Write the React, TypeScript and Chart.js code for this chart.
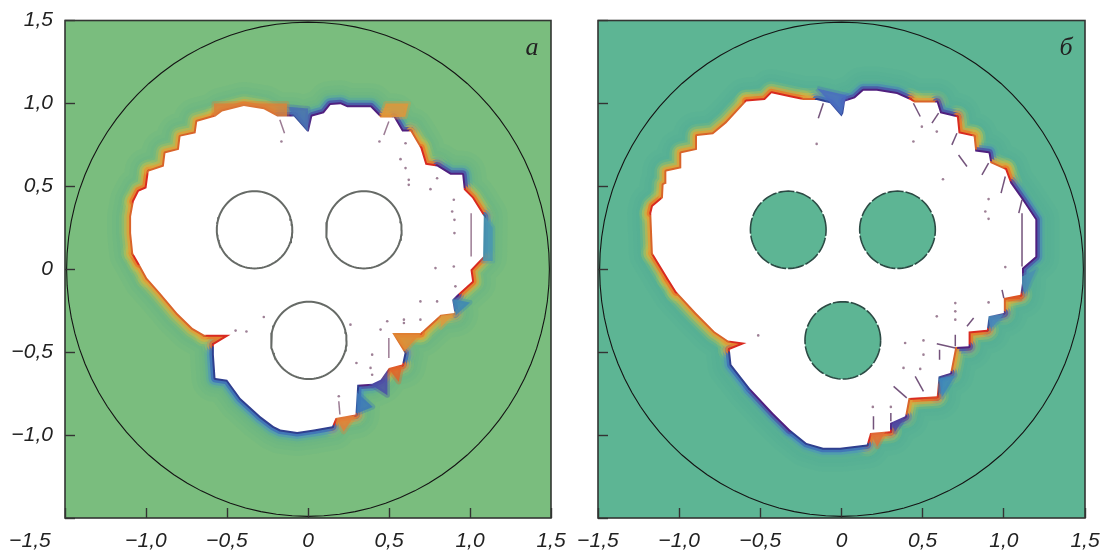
import React, { useEffect, useRef } from "react";
import { Chart, registerables } from "chart.js";

Chart.register(...registerables);

const axisValues = [-1.5, -1, -0.5, 0, 0.5, 1, 1.5];
const axisLabels = ["−1,5", "−1,0", "−0,5", "0", "0,5", "1,0", "1,5"];

const leftOutlineX = [
  -0.993, -1.044, -1.079, -1.092, -1.092, -1.075, -1.044, -0.997, -0.983, -0.89,
  -0.88, -0.797, -0.787, -0.694, -0.684, -0.571, -0.53, -0.396, -0.273, -0.19,
  -0.087, -0.005, 0.005, 0.026, 0.098, 0.139, 0.201, 0.242, 0.386, 0.448,
  0.53, 0.581, 0.633, 0.694, 0.725, 0.797, 0.879, 0.952, 0.962, 1.013,
  1.085, 1.081, 1.003, 1.013, 0.921, 0.89, 0.904, 0.818, 0.694, 0.52,
  0.596, 0.581, 0.499, 0.448, 0.396, 0.304, 0.293, 0.17, 0.149, 0.036,
  -0.067, -0.17, -0.211, -0.293, -0.417, -0.499, -0.571, -0.581, -0.581, -0.478,
  -0.64, -0.712, -0.807, -0.91,
];
const leftOutlineY = [
  -0.053, 0.037, 0.097, 0.218, 0.318, 0.409, 0.469, 0.489, 0.589, 0.62,
  0.7, 0.72, 0.8, 0.82, 0.89, 0.921, 0.951, 0.985, 0.965, 0.921,
  0.921, 0.83, 0.83, 0.921, 0.941, 0.991, 0.995, 0.977, 0.977, 0.915,
  0.915, 0.83, 0.83, 0.73, 0.63, 0.62, 0.57, 0.57, 0.479, 0.429,
  0.318, 0.077, -0.003, -0.073, -0.154, -0.184, -0.264, -0.274, -0.385, -0.385,
  -0.505, -0.575, -0.595, -0.666, -0.69, -0.696, -0.876, -0.897, -0.947, -0.967,
  -0.981, -0.967, -0.947, -0.887, -0.776, -0.666, -0.656, -0.515, -0.455, -0.395,
  -0.395, -0.354, -0.264, -0.144,
];
const leftOutlineTone = [
  "Y", "R", "Y", "Y", "Y", "R", "R", "R", "Y", "Y",
  "Y", "Y", "Y", "Y", "Y", "R", "R", "R", "R", "P",
  "B", "B", "P", "P", "P", "P", "P", "P", "P", "Y",
  "P", "P", "Y", "R", "R", "P", "P", "P", "R", "R",
  "B", "R", "R", "R", "P", "P", "Y", "Y", "R", "Y",
  "B", "R", "R", "P", "P", "B", "R", "R", "B", "B",
  "B", "B", "B", "B", "B", "B", "B", "B", "R", "R",
  "Y", "Y", "Y", "Y",
];

const rightOutlineX = [
  -1.069, -1.162, -1.172, -1.162, -1.1, -1.096, -1.075, -1.079, -0.987, -0.987,
  -0.89, -0.89, -0.791, -0.709, -0.586, -0.472, -0.431, -0.318, -0.236, -0.153,
  -0.071, 0, 0.011, 0.022, 0.083, 0.135, 0.217, 0.341, 0.423, 0.448,
  0.587, 0.608, 0.711, 0.721, 0.814, 0.824, 0.906, 0.917, 1.009, 1.04,
  1.112, 1.194, 1.194, 1.112, 1.112, 1.102, 1.0, 1.0, 0.906, 0.896,
  0.783, 0.783, 0.701, 0.67, 0.598, 0.587, 0.413, 0.392, 0.299, 0.299,
  0.176, 0.156, -0.009, -0.112, -0.215, -0.318, -0.421, -0.565, -0.678, -0.688,
  -0.585, -0.699, -0.781, -0.894, -1.017,
];
const rightOutlineY = [
  -0.053, 0.097, 0.338, 0.378, 0.429, 0.509, 0.519, 0.589, 0.609, 0.7,
  0.72, 0.804, 0.814, 0.881, 1.011, 1.021, 1.061, 1.037, 1.021, 1.021,
  1.001, 0.921, 0.941, 1.011, 1.031, 1.077, 1.077, 1.057, 1.021, 1.005,
  1.005, 0.941, 0.917, 0.82, 0.8, 0.71, 0.7, 0.64, 0.6, 0.519,
  0.419, 0.298, 0.077, 0.007, -0.083, -0.154, -0.174, -0.264, -0.284, -0.365,
  -0.375, -0.465, -0.469, -0.625, -0.646, -0.766, -0.776, -0.887, -0.927, -0.977,
  -0.987, -1.057, -1.077, -1.077, -1.047, -0.967, -0.867, -0.716, -0.575, -0.485,
  -0.445, -0.429, -0.375, -0.264, -0.134,
];
const rightOutlineTone = [
  "R", "Y", "R", "R", "Y", "Y", "Y", "Y", "Y", "Y",
  "Y", "Y", "Y", "Y", "R", "R", "R", "R", "Y", "B",
  "B", "B", "B", "P", "P", "P", "P", "P", "R", "Y",
  "P", "P", "R", "R", "Y", "P", "P", "Y", "R", "P",
  "P", "P", "P", "P", "P", "R", "Y", "P", "B", "R",
  "R", "P", "Y", "P", "B", "R", "Y", "P", "P", "R",
  "R", "B", "B", "B", "B", "P", "P", "B", "B", "R",
  "R", "Y", "Y", "Y", "R",
];

const leftHolesX = [-0.33, 0.345, 0.005];
const leftHolesY = [0.238, 0.238, -0.429];
const rightHolesX = [-0.328, 0.345, 0.008];
const rightHolesY = [0.238, 0.238, -0.429];
const holeRadius = 0.233;
const domainRadius = 1.49;

const leftSpecksX = [
  0.602, 0.571, 0.602, 0.622, 0.622, 0.756, 0.797, 0.9, 0.89, 0.904, 0.904, 0.787, 0.9, 0.441, -0.164,
  0.694, 0.797, 0.694, 0.592, 0.592, 0.489, 0.448, 0.396, 0.386, 0.396, 0.299, 0.262, 0.19, 0.91,
  -0.273, -0.447, -0.38,
];
const leftSpecksY = [
  0.76, 0.664, 0.61, 0.539, 0.509, 0.483, 0.549, 0.419, 0.348, 0.298, 0.218, 0.007, 0.017, 0.77, 0.77,
  -0.194, -0.194, -0.304, -0.304, -0.324, -0.314, -0.364, -0.515, -0.595, -0.636, -0.565, -0.334, -0.766, -0.103,
  -0.288, -0.37, -0.375,
];
const leftCracksX = [
  [1.007, 1.007], [0.499, 0.468], [-0.174, -0.145], [0.499, 0.499], [0.19, 0.197],
];
const leftCracksY = [
  [0.338, 0.077], [0.891, 0.81], [0.901, 0.82], [-0.415, -0.535], [-0.796, -0.876],
];

const rightSpecksX = [
  0.495, 0.587, 0.443, 0.625, 0.906, 0.886, 0.906, 1.009, -0.153,
  0.701, 0.701, 0.701, 0.587, 0.906, 0.392, 0.505, 0.505, 0.382, 0.485, 0.193, 0.304, -0.513,
];
const rightSpecksY = [
  0.86, 0.83, 0.77, 0.543, 0.423, 0.348, 0.304, 0.013, 0.756,
  -0.204, -0.254, -0.304, -0.284, -0.2, -0.445, -0.429, -0.515, -0.595, -0.601, -0.83, -0.83, -0.399,
];
const rightCracksX = [
  [0.443, 0.485], [0.598, 0.557], [0.711, 0.68], [0.721, 0.773], [0.906, 0.865], [1.009, 0.983], [1.112, 1.092],
  [1.112, 1.112], [-0.112, -0.143], [0.989, 1.0], [0.773, 0.814], [0.701, 0.701], [0.587, 0.701], [0.604, 0.604],
  [0.454, 0.505], [0.321, 0.402], [0.197, 0.197], [0.304, 0.304],
];
const rightCracksY = [
  [1.001, 0.921], [0.941, 0.881], [0.82, 0.75], [0.689, 0.62], [0.64, 0.569], [0.559, 0.459], [0.419, 0.338],
  [0.338, 0.017], [1.001, 0.911], [-0.124, -0.174], [-0.344, -0.294], [-0.395, -0.465], [-0.449, -0.475], [-0.485, -0.545],
  [-0.646, -0.736], [-0.706, -0.776], [-0.887, -0.967], [-0.867, -0.917],
];

const leftPatchX = [
  [0.52, 0.7, 0.6], [0.38, 0.49, 0.49], [0.49, 0.58, 0.56], [0.3, 0.4, 0.3], [0.17, 0.29, 0.22],
  [0.89, 1.0, 0.91], [0.82, 0.9, 0.82], [0.45, 0.6, 0.62, 0.48], [-0.13, 0.0, 0.0],
  [1.08, 1.14, 1.14, 1.08], [-0.58, -0.58, -0.13, -0.13],
];
const leftPatchY = [
  [-0.385, -0.385, -0.49], [-0.69, -0.6, -0.76], [-0.59, -0.58, -0.68], [-0.74, -0.83, -0.87], [-0.89, -0.88, -0.98],
  [-0.18, -0.2, -0.28], [-0.28, -0.27, -0.35], [0.915, 0.92, 1.0, 1.0], [0.98, 0.83, 0.97],
  [0.33, 0.25, 0.05, 0.05], [0.92, 1.0, 1.0, 0.92],
];
const leftPatchTone = [
  "#e08a35", "#4a4fa8", "#e0642a", "#3d78b8", "#e0803a",
  "#3f88b5", "#dc9a40", "#e0963a", "#4a70b0",
  "#4a98b0", "#d9813a",
];
const rightPatchX = [
  [0.176, 0.27, 0.22], [0.3, 0.39, 0.33], [0.5, 0.6, 0.59, 0.5], [0.6, 0.7, 0.62],
  [0.9, 1.0, 0.92], [1.0, 1.1, 1.1, 1.0], [1.1, 1.2, 1.13], [-0.15, 0.0, 0.03],
];
const rightPatchY = [
  [-0.985, -0.98, -1.07], [-0.89, -0.89, -0.98], [-0.69, -0.69, -0.78, -0.78], [-0.66, -0.64, -0.77],
  [-0.28, -0.27, -0.36], [-0.14, -0.14, -0.18, -0.18], [-0.05, 0.0, -0.15], [1.09, 0.93, 1.05],
];
const rightPatchTone = [
  "#e0703a", "#5048a0", "#dd4a25", "#3f88b8",
  "#4a88b8", "#dd5a25", "#4a90b0", "#4a6cc0",
];

const toneRamps: Record<string, string[]> = {
  R: ["#9cc266", "#bcc152", "#dca53a", "#ea7a2a", "#d92a20"],
  Y: ["#93c06d", "#aebf5a", "#c8b84a", "#e0a03a", "#d9642a"],
  P: ["#5cb094", "#4fa3a6", "#4a83b8", "#4b55a8", "#50207f"],
  B: ["#5fb292", "#55a8a6", "#4d93bc", "#3f70b9", "#2f3f8f"],
};
const haloWidths = [24, 19, 14, 9, 4];
const haloAlphas = [0.22, 0.4, 0.6, 0.85, 1];

const FONT = "'Liberation Sans', Arial, sans-serif";
const SERIF = "'Liberation Serif', serif";

function zip(xs: number[], ys: number[]) {
  return xs.map((x, i) => ({ x, y: ys[i] }));
}
function closed(points: { x: number; y: number }[]) {
  return [...points, points[0]];
}
function ring(cx: number, cy: number, r: number) {
  const steps = 96;
  const out = [];
  for (let i = 0; i <= steps; i++) {
    const a = (i / steps) * Math.PI * 2;
    out.push({ x: cx + r * Math.cos(a), y: cy + r * Math.sin(a) });
  }
  return out;
}

type PanelSpec = {
  left: number;
  width: number;
  yAxisWidth: number;
  paddingRight: number;
  showYLabels: boolean;
  shiftFirstX: boolean;
  letter: string;
  ground: string;
  band: string;
  outlineX: number[];
  outlineY: number[];
  tones: string[];
  holesX: number[];
  holesY: number[];
  holesFilled: boolean;
  specksX: number[];
  specksY: number[];
  cracksX: number[][];
  cracksY: number[][];
  patchX: number[][];
  patchY: number[][];
  patchTone: string[];
};

const panels: PanelSpec[] = [
  {
    left: 0, width: 575, yAxisWidth: 65, paddingRight: 24, showYLabels: true, shiftFirstX: true,
    letter: "а", ground: "#7abd7e", band: "#5fb48a",
    outlineX: leftOutlineX, outlineY: leftOutlineY, tones: leftOutlineTone,
    holesX: leftHolesX, holesY: leftHolesY, holesFilled: false,
    specksX: leftSpecksX, specksY: leftSpecksY, cracksX: leftCracksX, cracksY: leftCracksY,
    patchX: leftPatchX, patchY: leftPatchY, patchTone: leftPatchTone,
  },
  {
    left: 575, width: 526, yAxisWidth: 23, paddingRight: 16, showYLabels: false, shiftFirstX: false,
    letter: "б", ground: "#5db594", band: "#4faa98",
    outlineX: rightOutlineX, outlineY: rightOutlineY, tones: rightOutlineTone,
    holesX: rightHolesX, holesY: rightHolesY, holesFilled: true,
    specksX: rightSpecksX, specksY: rightSpecksY, cracksX: rightCracksX, cracksY: rightCracksY,
    patchX: rightPatchX, patchY: rightPatchY, patchTone: rightPatchTone,
  },
];

function hexA(hex: string, a: number) {
  const n = parseInt(hex.slice(1), 16);
  return `rgba(${(n >> 16) & 255},${(n >> 8) & 255},${n & 255},${a})`;
}

function buildDatasets(p: PanelSpec) {
  const outline = closed(zip(p.outlineX, p.outlineY));
  const line = { showLine: true, pointRadius: 0, pointHoverRadius: 0, tension: 0, fill: false };
  const painted: any[] = [];
  [48, 38, 30].forEach((w) => {
    painted.push({
      ...line, data: outline, borderColor: hexA(p.band, 0.14), borderWidth: w,
      borderJoinStyle: "round", borderCapStyle: "round",
    });
  });
  haloWidths.forEach((w, layer) => {
    painted.push({
      ...line, data: outline, borderWidth: w, borderColor: "#000",
      borderJoinStyle: "round", borderCapStyle: "round",
      segment: {
        borderColor: (ctx: any) =>
          hexA(toneRamps[p.tones[ctx.p0DataIndex % p.tones.length]][layer], haloAlphas[layer]),
      },
    });
  });
  p.patchX.forEach((xs, i) => {
    const tone = p.patchTone[i];
    painted.push({
      ...line, data: closed(zip(xs, p.patchY[i])), fill: "shape",
      backgroundColor: hexA(tone, 0.85), borderColor: hexA(tone, 0.35), borderWidth: 5,
      borderJoinStyle: "round",
    });
  });
  painted.push({
    ...line, data: outline, borderWidth: 0, borderColor: "#fff",
    backgroundColor: "#fff", fill: "shape",
  });
  p.holesX.forEach((cx, i) => {
    painted.push({
      ...line, data: ring(cx, p.holesY[i], holeRadius),
      borderColor: p.holesFilled ? "#2c4a44" : "#666a66",
      borderWidth: p.holesFilled ? 1.6 : 2,
      borderDash: p.holesFilled ? [16, 2] : [],
      backgroundColor: p.ground,
      fill: p.holesFilled ? "shape" : false,
    });
  });
  p.cracksX.forEach((xs, i) => {
    painted.push({
      ...line, data: zip(xs, p.cracksY[i]),
      borderColor: p.holesFilled ? "rgba(80,40,90,0.8)" : "rgba(130,90,120,0.8)",
      borderWidth: 1.5,
    });
  });
  painted.push({
    data: zip(p.specksX, p.specksY), showLine: false, pointRadius: 1.3, pointHoverRadius: 1.3,
    pointBorderWidth: 0, pointBackgroundColor: "rgba(125,85,115,0.75)",
  });
  painted.push({
    ...line, data: ring(0, 0, domainRadius), borderColor: "#141414", borderWidth: 1.1,
  });
  return painted.reverse();
}

function zeroPadding(s: any) {
  s.paddingLeft = 0;
  s.paddingRight = 0;
  s.paddingTop = 0;
  s.paddingBottom = 0;
}

function makeChart(canvas: HTMLCanvasElement, p: PanelSpec) {
  const framePlugin = {
    id: "panelFrame",
    beforeDraw(chart: any) {
      const { ctx, chartArea: a } = chart;
      ctx.save();
      ctx.fillStyle = p.ground;
      ctx.fillRect(a.left, a.top, a.right - a.left, a.bottom - a.top);
      ctx.restore();
    },
    afterDraw(chart: any) {
      const { ctx, chartArea: a, scales } = chart;
      ctx.save();
      ctx.strokeStyle = "#333533";
      ctx.lineWidth = 1.6;
      ctx.strokeRect(a.left, a.top, a.right - a.left, a.bottom - a.top);
      ctx.fillStyle = "#222";
      ctx.font = `italic 26px ${SERIF}`;
      ctx.textAlign = "center";
      ctx.textBaseline = "alphabetic";
      ctx.fillText(p.letter, scales.x.getPixelForValue(1.383), scales.y.getPixelForValue(1.292));
      ctx.restore();
    },
  };
  const tickFont = { family: FONT, size: 21, style: "italic" as const };
  const grid = {
    drawOnChartArea: false, drawTicks: true, tickLength: -10, tickColor: "#333", tickWidth: 1.4, z: 1,
  };
  return new Chart(canvas, {
    type: "scatter",
    data: { datasets: buildDatasets(p) },
    options: {
      animation: false,
      responsive: false,
      maintainAspectRatio: false,
      events: [],
      layout: { padding: { top: 20.5, right: p.paddingRight, left: 0, bottom: 0 } },
      plugins: { legend: { display: false }, tooltip: { enabled: false }, title: { display: false } },
      scales: {
        x: {
          type: "linear", min: -1.5, max: 1.5,
          afterFit: (s: any) => { s.height = 33; zeroPadding(s); },
          afterBuildTicks: (s: any) => { s.ticks = axisValues.map((value) => ({ value })); },
          grid, border: { display: false },
          ticks: {
            autoSkip: false, maxRotation: 0, minRotation: 0, padding: 21, color: "#222", font: tickFont,
            callback: (_v: any, i: number) =>
              i === 0 && p.shiftFirstX ? axisLabels[0] + " ".repeat(12) : axisLabels[i],
          },
        },
        y: {
          type: "linear", min: -1.5, max: 1.5,
          afterFit: (s: any) => { s.width = p.yAxisWidth; zeroPadding(s); },
          afterBuildTicks: (s: any) => { s.ticks = axisValues.map((value) => ({ value })); },
          grid, border: { display: false },
          ticks: {
            autoSkip: false, padding: 22, color: "#222", font: tickFont,
            callback: (_v: any, i: number) => (p.showYLabels && i > 0 ? axisLabels[i] : ""),
          },
        },
      },
    },
    plugins: [framePlugin],
  } as any);
}

export default function App() {
  const leftRef = useRef<HTMLCanvasElement>(null);
  const rightRef = useRef<HTMLCanvasElement>(null);
  useEffect(() => {
    const charts = [makeChart(leftRef.current!, panels[0]), makeChart(rightRef.current!, panels[1])];
    return () => charts.forEach((c) => c.destroy());
  }, []);
  const style = (p: PanelSpec): React.CSSProperties => ({
    position: "fixed", left: p.left, top: 0, width: p.width, height: 551, display: "block",
  });
  return (
    <div>
      <canvas ref={leftRef} width={panels[0].width} height={551} style={style(panels[0])} />
      <canvas ref={rightRef} width={panels[1].width} height={551} style={style(panels[1])} />
    </div>
  );
}
